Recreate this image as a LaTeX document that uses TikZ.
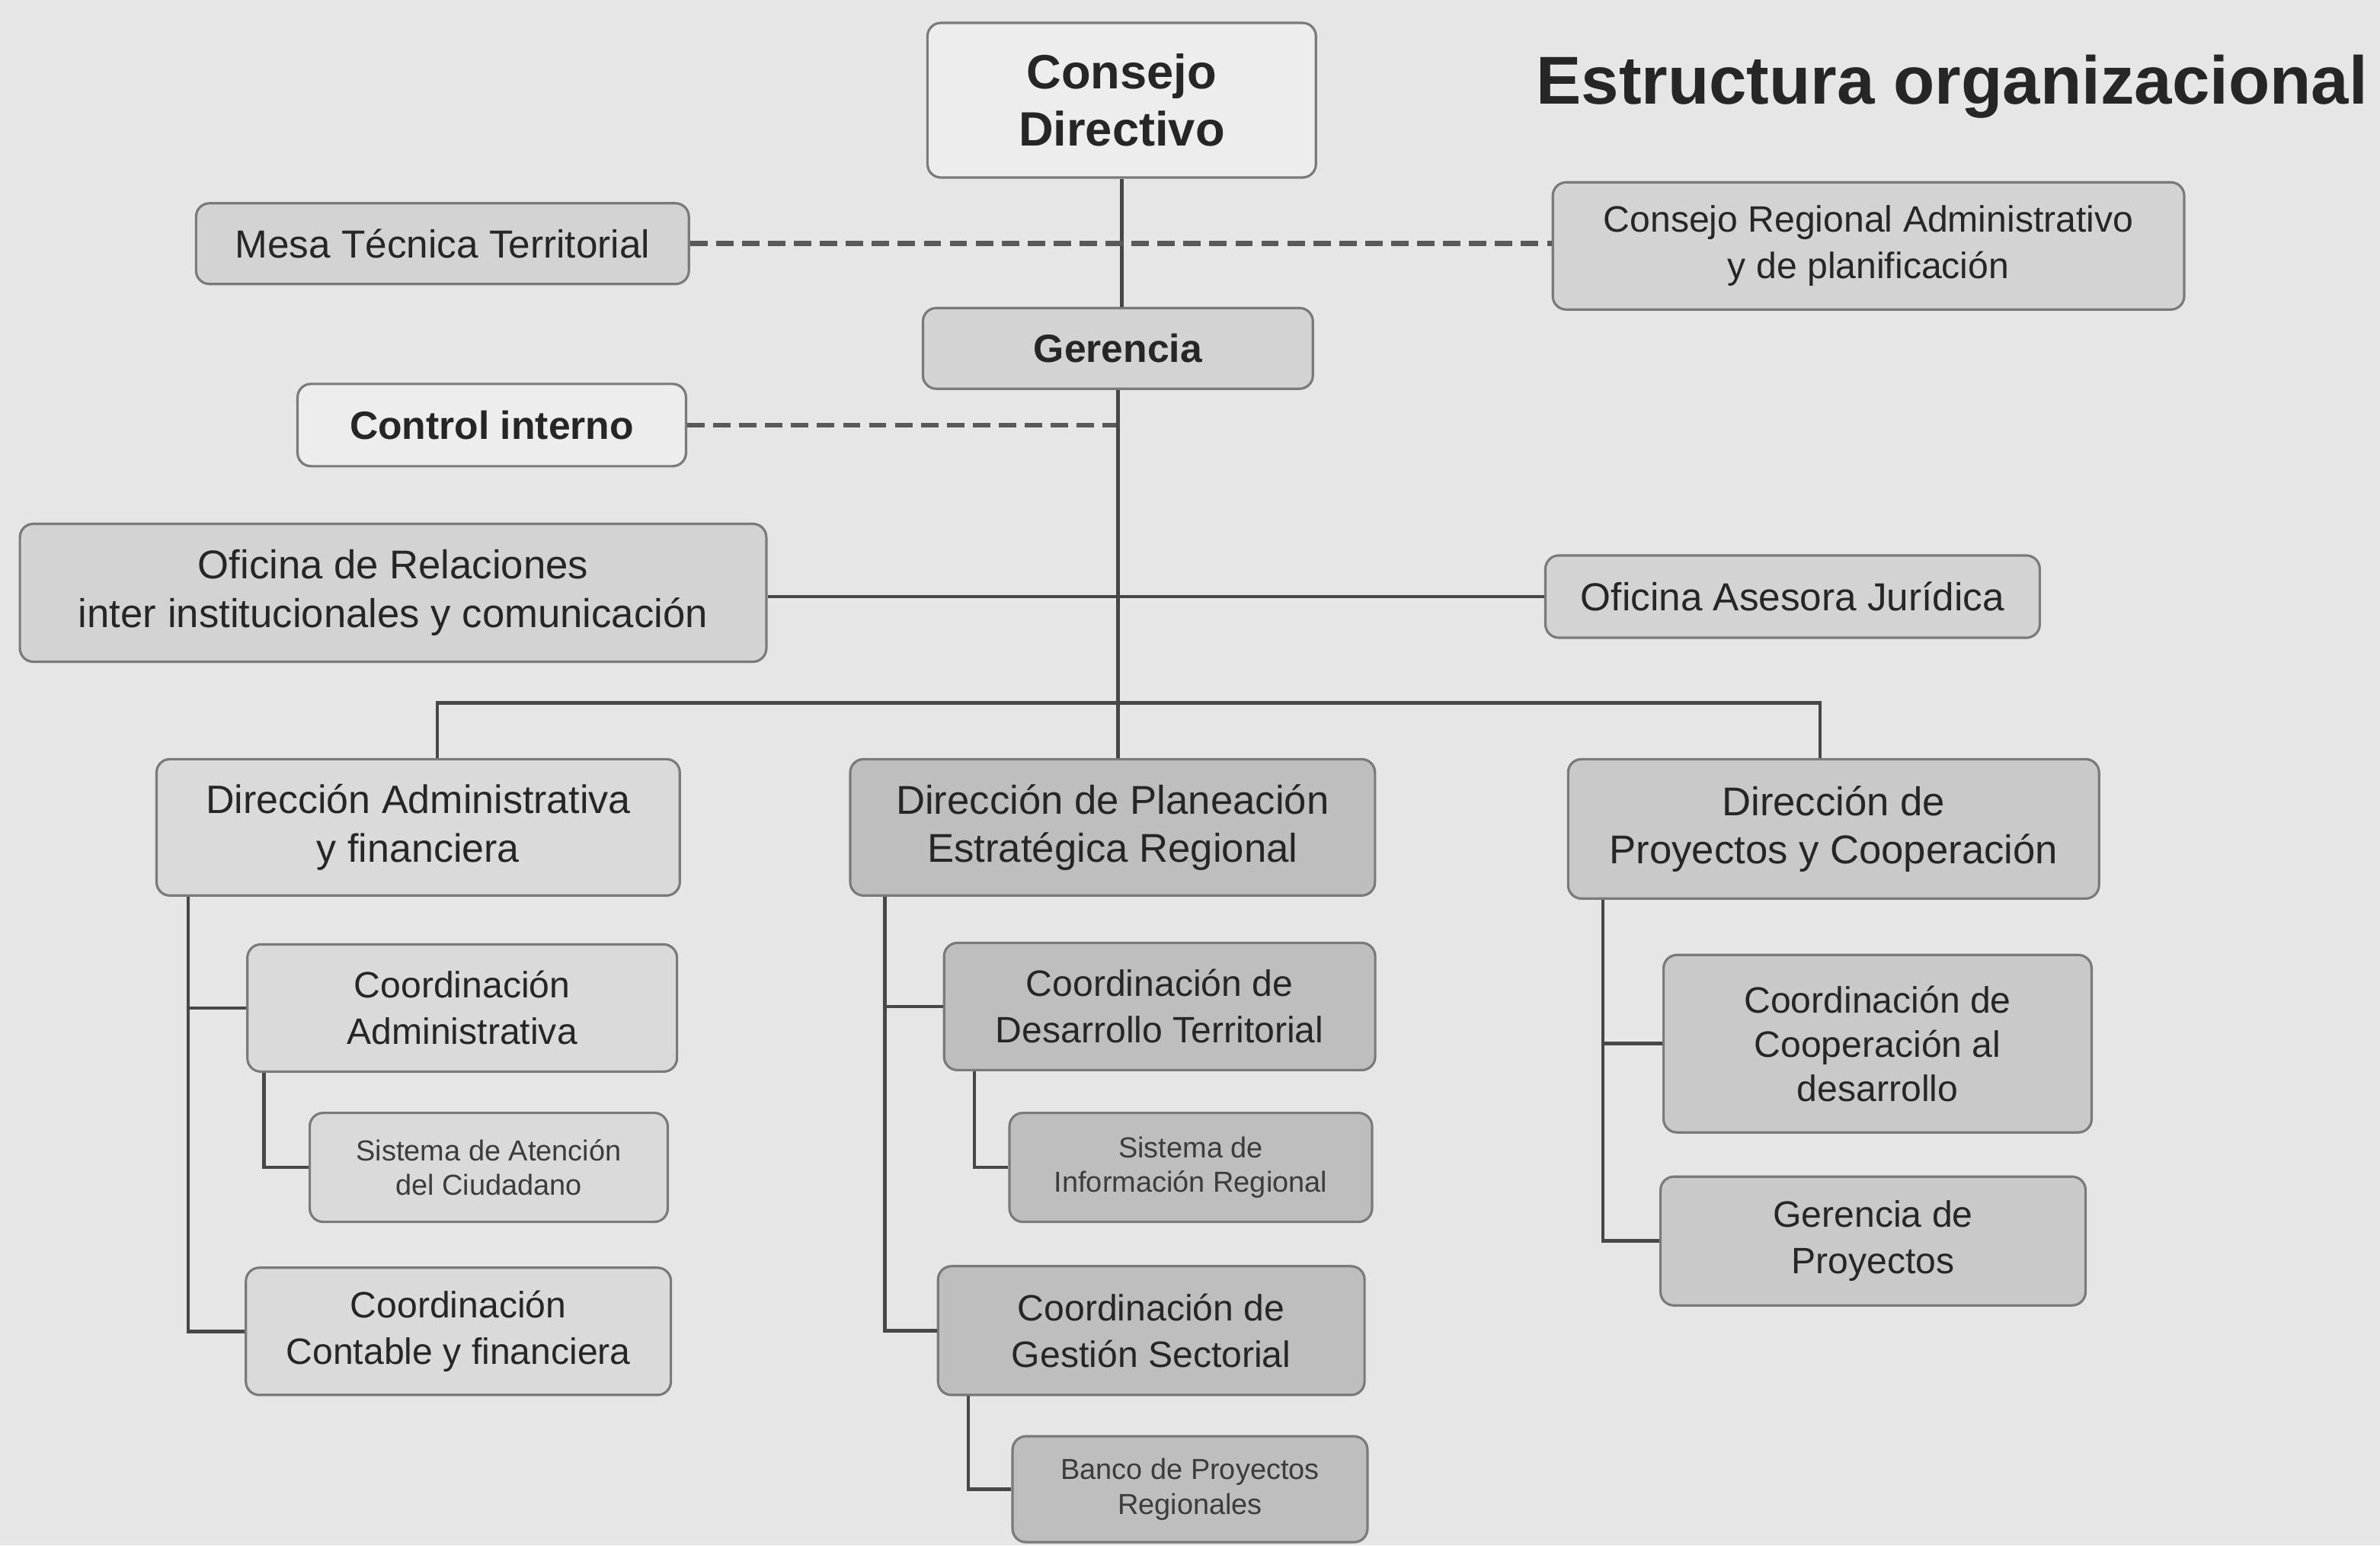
\documentclass[tikz,border=0pt]{standalone}
\usepackage{fontspec}
\setmainfont{Liberation Sans}
\definecolor{paper}{HTML}{E6E6E6}
\definecolor{bordc}{HTML}{7A7A7A}
\definecolor{linec}{HTML}{474747}
\definecolor{txt}{HTML}{262626}
\definecolor{whitec}{HTML}{EDEDED}
\definecolor{grayc}{HTML}{D3D3D3}
\definecolor{litec}{HTML}{DADADA}
\definecolor{darkc}{HTML}{BEBEBE}
\definecolor{midc}{HTML}{C9C9C9}
\tikzset{
  box/.style={draw=bordc, line width=0.9pt, rounded corners=5pt, align=center, text=txt, inner sep=0pt},
  wbox/.style={box, fill=whitec},
  gbox/.style={box, fill=grayc},
  lbox/.style={box, fill=litec},
  dbox/.style={box, fill=darkc},
  mbox/.style={box, fill=midc},
  bigbold/.style={font=\fontsize{18}{21.5}\selectfont\bfseries},
  medbold/.style={font=\fontsize{14.7}{17}\selectfont\bfseries},
  reg/.style={font=\fontsize{14.6}{18}\selectfont},
  regs/.style={font=\fontsize{13.7}{17.4}\selectfont},
  tiny/.style={font=\fontsize{10.8}{13}\selectfont, text=txt!90},
  conn/.style={draw=linec, line width=1.3pt},
  dconn/.style={draw=linec!90, line width=1.9pt, dash pattern=on 6.5pt off 3.2pt},
}
\begin{document}
\begin{tikzpicture}[x=0.019923cm, y=-0.019923cm]
\fill[paper] (0,0) rectangle (1568,1018);
\useasboundingbox (0,0) rectangle (1568,1018);

\node[font=\fontsize{25.3}{28}\selectfont\bfseries, text=txt, anchor=center] (title) at (1286,57) {Estructura organizacional};

\node[wbox, bigbold, minimum width=5.10cm, minimum height=2.03cm] (consejo) at (739,66) {Consejo\\Directivo};
\node[gbox, reg, minimum width=6.47cm, minimum height=1.06cm] (mesa) at (291.5,160.5) {Mesa Técnica Territorial};
\node[gbox, regs, minimum width=8.29cm, minimum height=1.67cm] (cra) at (1231,162) {Consejo Regional Administrativo\\y de planificación};
\node[gbox, medbold, minimum width=5.12cm, minimum height=1.06cm] (gerencia) at (736.5,229.5) {Gerencia};
\node[wbox, medbold, minimum width=5.10cm, minimum height=1.08cm] (control) at (324,280) {Control interno};
\node[gbox, font=\fontsize{15}{18.2}\selectfont, minimum width=9.80cm, minimum height=1.81cm] (ofrel) at (259,390.5) {Oficina de Relaciones\\inter institucionales y comunicación};
\node[gbox, reg, minimum width=6.49cm, minimum height=1.08cm] (ofjur) at (1181,393) {Oficina Asesora Jurídica};

\node[lbox, font=\fontsize{14.8}{18}\selectfont, minimum width=6.87cm, minimum height=1.79cm] (diradm) at (275.5,545) {Dirección Administrativa\\y financiera};
\node[lbox, regs, minimum width=5.64cm, minimum height=1.67cm] (coadm) at (304.5,664) {Coordinación\\Administrativa};
\node[lbox, tiny, minimum width=4.70cm, minimum height=1.43cm] (sac) at (322,769) {Sistema de Atención\\del Ciudadano};
\node[lbox, regs, minimum width=5.58cm, minimum height=1.67cm] (cocont) at (302,877) {Coordinación\\Contable y financiera};

\node[dbox, font=\fontsize{15}{18}\selectfont, minimum width=6.89cm, minimum height=1.79cm] (dirplan) at (733,545) {Dirección de Planeación\\Estratégica Regional};
\node[dbox, regs, minimum width=5.66cm, minimum height=1.67cm] (codes) at (764,663) {Coordinación de\\Desarrollo Territorial};
\node[dbox, tiny, minimum width=4.76cm, minimum height=1.43cm] (sir) at (784.5,769) {Sistema de\\Información Regional};
\node[dbox, regs, minimum width=5.60cm, minimum height=1.69cm] (coges) at (758.5,876.5) {Coordinación de\\Gestión Sectorial};
\node[dbox, tiny, minimum width=4.66cm, minimum height=1.39cm] (banco) at (784,981) {Banco de Proyectos\\Regionales};

\node[mbox, font=\fontsize{15}{18}\selectfont, minimum width=6.97cm, minimum height=1.83cm] (dirpro) at (1208,546) {Dirección de\\Proyectos y Cooperación};
\node[mbox, font=\fontsize{13.7}{16.5}\selectfont, minimum width=5.62cm, minimum height=2.33cm] (cocoop) at (1237,687.5) {Coordinación de\\Cooperación al\\desarrollo};
\node[mbox, regs, minimum width=5.58cm, minimum height=1.69cm] (gerpro) at (1234,817.5) {Gerencia de\\Proyectos};

% connector anchors
\coordinate (busL) at (288,463);
\coordinate (busR) at (1199,463);
\coordinate (la) at (124,0);
\coordinate (lb) at (174,0);
\coordinate (ma) at (583,0);
\coordinate (mb) at (642,0);
\coordinate (mc) at (638,0);
\coordinate (ra) at (1056,0);

% top spine
\draw[conn] (consejo.south) -- (consejo.south |- gerencia.north);
\draw[dconn] (mesa.east) -- (mesa.east -| cra.west);
\draw[dconn] (control.east) -- (control.east -| gerencia.south);
\draw[conn] (gerencia.south) -- (gerencia.south |- dirplan.north);
\draw[conn] (ofrel.east |- ofjur.west) -- (ofjur.west);
\draw[conn] (busL |- diradm.north) -- (busL) -- (busR) -- (busR |- dirpro.north);

% left branch
\draw[conn] (la |- diradm.south) |- (cocont.west);
\draw[conn] (la |- coadm.west) -- (coadm.west);
\draw[conn] (lb |- coadm.south) |- (sac.west);

% middle branch
\draw[conn] (ma |- dirplan.south) |- (coges.west);
\draw[conn] (ma |- codes.west) -- (codes.west);
\draw[conn] (mb |- codes.south) |- (sir.west);
\draw[conn] (mc |- coges.south) |- (banco.west);

% right branch
\draw[conn] (ra |- dirpro.south) |- (gerpro.west);
\draw[conn] (ra |- cocoop.west) -- (cocoop.west);
\end{tikzpicture}
\end{document}
